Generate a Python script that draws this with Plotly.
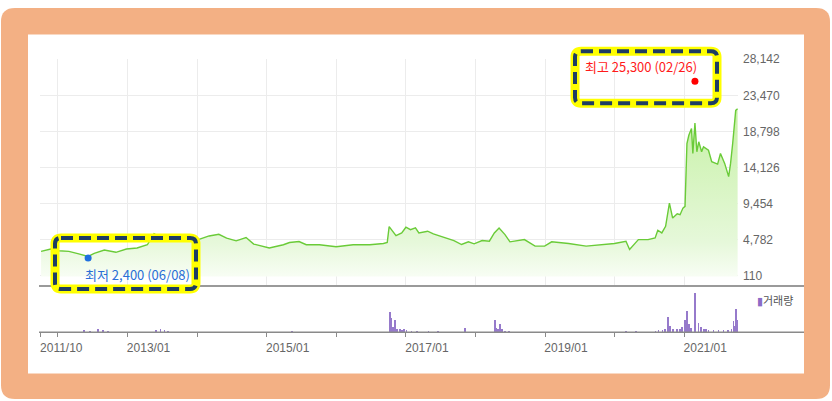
import plotly.graph_objects as go

# 종가 (주간, 그림에서 읽은 값)
price_dates = [
    "2011-10-05", "2011-11-25", "2012-01-06", "2012-02-28", "2012-04-20", "2012-06-08",
    "2012-07-10", "2012-09-01", "2012-11-01", "2012-12-26", "2013-02-20", "2013-04-15",
    "2013-05-20", "2013-06-15", "2013-08-10", "2013-10-25", "2013-12-15", "2014-01-15",
    "2014-03-05", "2014-04-25", "2014-06-05", "2014-07-25", "2014-09-15", "2014-10-25",
    "2015-01-15", "2015-03-30", "2015-05-01", "2015-06-20", "2015-07-28", "2015-10-05",
    "2016-01-01", "2016-03-30", "2016-06-25", "2016-09-05", "2016-09-25", "2016-10-05",
    "2016-10-20", "2016-11-10", "2016-12-10", "2017-01-01",
    "2017-01-25", "2017-02-20", "2017-03-10", "2017-04-25", "2017-05-25", "2017-07-20",
    "2017-09-10", "2017-10-20", "2017-11-25", "2017-12-25", "2018-02-05", "2018-03-15",
    "2018-04-10", "2018-05-05", "2018-06-05", "2018-07-01", "2018-09-15", "2018-11-10",
    "2018-12-30", "2019-02-05", "2019-05-05", "2019-08-05", "2019-11-01", "2020-01-01",
    "2020-03-01", "2020-03-20", "2020-05-05", "2020-06-25", "2020-08-01", "2020-08-15",
    "2020-09-05", "2020-09-25", "2020-10-15", "2020-11-01", "2020-11-25", "2020-12-10",
    "2020-12-25", "2021-01-05", "2021-01-15", "2021-01-25", "2021-02-08", "2021-02-15",
    "2021-02-26", "2021-03-08", "2021-03-18", "2021-04-02", "2021-04-12", "2021-05-08",
    "2021-05-25", "2021-06-25", "2021-07-10", "2021-08-01", "2021-08-22", "2021-09-01",
    "2021-09-12", "2021-09-28", "2021-10-08",
]
price_close = [
    3250, 3560, 3340, 3250, 2920, 2600,
    3000, 3430, 3130, 3560, 3690, 4110,
    5550, 5160, 5160, 4780, 4490, 4830,
    5250, 5470, 4960, 4620, 5040, 4200,
    3690, 4110, 4400, 4530, 4110, 4110,
    3850, 4110, 4110, 4270, 4400, 6450,
    5900, 5300, 5640, 6380,
    6070, 6290, 5640, 5860, 5510, 5090,
    4650, 4140, 4490, 4230, 4650, 4570,
    5640, 6290, 5420, 4490, 4780, 3930,
    3930, 4490, 4270, 3930, 4140, 4270,
    4570, 3490, 4780, 4780, 5000, 5990,
    5640, 6500, 9500, 7570, 8130, 8000,
    8860, 9080, 17230, 18300, 19160, 15940,
    19890, 16160, 17450, 16160, 16800, 16360,
    14870, 14560, 15940, 14650, 12940, 14650,
    17230, 21510, 21730,
]

# 거래량 (천주, 그림에서 읽은 값)
vol_dates = [
    "2012-05-20", "2012-06-20", "2012-08-01", "2012-08-25", "2012-09-20",
    "2013-05-30", "2013-06-25", "2013-07-15", "2013-08-01", "2015-05-15",
    "2016-10-10", "2016-10-15", "2016-10-25", "2016-11-05", "2016-11-15",
    "2016-12-01", "2016-12-12", "2016-12-22", "2017-01-05", "2017-02-01",
    "2017-03-01", "2017-05-01", "2017-06-20", "2017-11-10",
    "2018-04-15", "2018-04-20", "2018-05-01", "2018-05-12", "2018-05-22",
    "2018-06-08", "2018-06-28",
    "2020-03-01", "2020-04-25", "2020-08-05", "2020-08-20", "2020-09-10",
    "2020-09-25", "2020-10-10", "2020-10-20", "2020-11-05", "2020-11-25",
    "2020-12-10", "2020-12-20", "2021-01-06", "2021-01-17", "2021-01-27",
    "2021-02-07", "2021-02-26", "2021-03-03", "2021-03-18", "2021-03-30",
    "2021-04-15", "2021-04-25", "2021-05-10", "2021-06-05", "2021-07-01",
    "2021-07-28", "2021-08-22", "2021-09-08", "2021-09-18", "2021-09-23",
    "2021-10-03", "2021-10-08",
]
vol_values = [
    200, 100, 300, 200, 100,
    200, 300, 200, 100, 100,
    2100, 1500, 500, 1200, 300,
    300, 200, 300, 200, 100,
    100, 100, 100, 400,
    1200, 400, 300, 800, 300,
    100, 100,
    100, 100, 100, 200, 200,
    300, 1600, 600, 300, 300,
    300, 500, 1200, 2200, 800,
    400, 4000, 800, 900, 500,
    300, 300, 200, 200, 200,
    200, 200, 300, 1100, 600,
    2400, 1200,
]

# 최고 / 최저
high_date, high_value, high_label = "2021-02-26", 25300, "최고 25,300 (02/26)"
low_date, low_value, low_label = "2012-06-08", 2400, "최저 2,400 (06/08)"

# 축 눈금
y_ticks = [110, 4782, 9454, 14126, 18798, 23470, 28142]
x_ticks = ["2011-10-01", "2012-01-01", "2013-01-01", "2014-01-01", "2015-01-01",
           "2016-01-01", "2017-01-01", "2018-01-01", "2019-01-01", "2020-01-01",
           "2021-01-01"]
x_ticktext = ["2011/10", "", "2013/01", "", "2015/01", "", "2017/01", "",
              "2019/01", "", "2021/01"]

W, H = 832, 401


def px(x):
    return x / W


def py(y):
    return 1 - y / H


def round_rect(x0, y0, x1, y1, r):
    # pixel box -> paper path with rounded corners
    rx, ry = r / W, r / H
    a, b, c, d = px(x0), py(y0), px(x1), py(y1)
    return (f"M {a + rx},{b} L {c - rx},{b} Q {c},{b} {c},{b - ry} "
            f"L {c},{d + ry} Q {c},{d} {c - rx},{d} L {a + rx},{d} "
            f"Q {a},{d} {a},{d + ry} L {a},{b - ry} Q {a},{b} {a + rx},{b} Z")


fig = go.Figure()

fig.add_trace(go.Scatter(
    x=price_dates, y=price_close, mode="lines",
    line=dict(color="#6acb38", width=1.4),
    fill="tozeroy",
    fillgradient=dict(type="vertical", start=0, stop=24000,
                      colorscale=[[0, "rgba(250,254,247,1)"], [0.2, "rgba(230,248,218,1)"],
                                  [0.6, "rgba(212,244,188,1)"], [1, "rgba(196,238,160,1)"]]),
    xaxis="x", yaxis="y", showlegend=False, hoverinfo="x+y",
))

fig.add_trace(go.Scatter(
    x=[high_date], y=[high_value], mode="markers",
    marker=dict(color="#ff0000", size=7), xaxis="x", yaxis="y", showlegend=False,
))
fig.add_trace(go.Scatter(
    x=[low_date], y=[low_value], mode="markers",
    marker=dict(color="#1f6fe0", size=7), xaxis="x", yaxis="y", showlegend=False,
))

fig.add_trace(go.Bar(
    x=vol_dates, y=vol_values, width=86400000 * 4,
    marker=dict(color="#8b6cc6", line=dict(width=0)), opacity=0.9,
    xaxis="x2", yaxis="y2", showlegend=False,
))

shapes = [
    # orange frame + white panel
    dict(type="path", xref="paper", yref="paper", path=round_rect(1, 1, 830, 399, 14),
         fillcolor="#f3b084", line=dict(width=0), layer="below"),
    dict(type="rect", xref="paper", yref="paper", x0=px(28), x1=px(804), y0=py(373), y1=py(28),
         fillcolor="white", line=dict(width=0), layer="below"),
    # separators
    dict(type="line", xref="paper", yref="paper", x0=px(39), x1=px(804), y0=py(284), y1=py(284),
         line=dict(color="#9a9a9a", width=2)),
    dict(type="line", xref="paper", yref="paper", x0=px(39), x1=px(804), y0=py(331), y1=py(331),
         line=dict(color="#8a8a8a", width=1.5)),
]
for box in [(575, 45, 717, 98), (55, 235, 196, 287)]:
    p = round_rect(*box, 6)
    shapes.append(dict(type="path", xref="paper", yref="paper", path=p,
                       line=dict(color="#ffff00", width=9)))
    shapes.append(dict(type="path", xref="paper", yref="paper", path=p,
                       line=dict(color="#1f3d63", width=4, dash="12px,6px")))

ann_font = "Noto Sans CJK KR, Liberation Sans, sans-serif"
annotations = [
    dict(x=high_date, y=high_value, xref="x", yref="y", text=high_label, showarrow=False,
         xanchor="right", yanchor="bottom", xshift=4, yshift=3,
         font=dict(family=ann_font, size=13, color="#ff1a1a")),
    dict(x=low_date, y=low_value, xref="x", yref="y", text=low_label, showarrow=False,
         xanchor="left", yanchor="top", xshift=-5, yshift=-5,
         font=dict(family=ann_font, size=13, color="#2a6fd6")),
    dict(x=px(755), y=py(298), xref="paper", yref="paper", showarrow=False,
         xanchor="left", yanchor="middle",
         text="<span style='color:#8b6cc6'>▮</span>거래량",
         font=dict(family=ann_font, size=11, color="#555555")),
]

x_range = ["2011-10-01", "2021-10-10"]
axis_font = dict(family="Liberation Sans, Arial, sans-serif", size=12, color="#666666")

fig.update_layout(
    width=W, height=H, autosize=False,
    margin=dict(l=0, r=0, t=0, b=0),
    paper_bgcolor="white", plot_bgcolor="rgba(0,0,0,0)",
    showlegend=False, bargap=0,
    xaxis=dict(domain=[px(40.3), px(738)], range=x_range, type="date", anchor="y",
               tickvals=x_ticks, showticklabels=False, ticks="",
               showgrid=True, gridcolor="#ececec", gridwidth=1, zeroline=False, showline=False),
    yaxis=dict(domain=[py(284), py(53.2)], range=[-1240, 28142], side="right", anchor="x",
               tickvals=y_ticks, tickformat=",d", ticks="", ticklabelstandoff=4,
               showgrid=True, gridcolor="#ececec", gridwidth=1, zeroline=False, showline=False,
               tickfont=axis_font),
    xaxis2=dict(domain=[px(40.3), px(738)], range=x_range, type="date", anchor="y2",
                matches="x", tickvals=x_ticks, ticktext=x_ticktext,
                ticks="outside", ticklen=4, tickcolor="#8a8a8a", tickwidth=1,
                ticklabelshift=21, showgrid=False, zeroline=False, showline=False,
                tickfont=axis_font),
    yaxis2=dict(domain=[py(331), py(289)], range=[0, 4200], anchor="x2",
                visible=False, showgrid=False, zeroline=False),
    shapes=shapes,
    annotations=annotations,
)

fig.write_html("out.html", config={"displayModeBar": False},
               post_script="document.body.style.margin='0';document.body.style.overflow='hidden';")
